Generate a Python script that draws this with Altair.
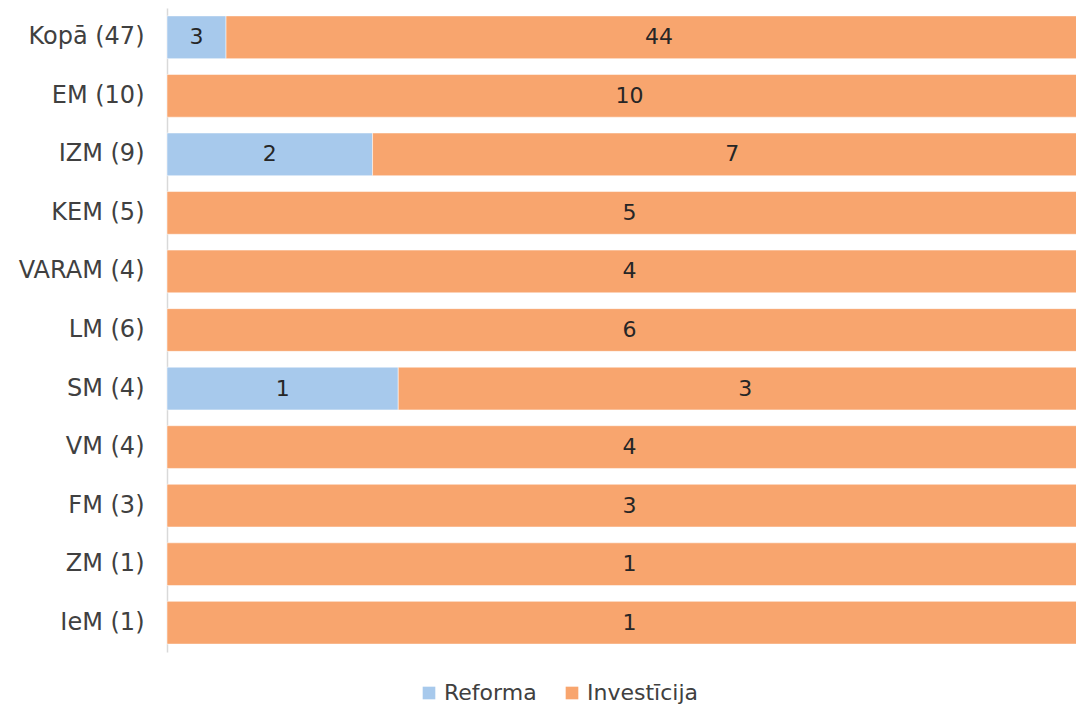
import altair as alt
import pandas as pd

categories = ["Kopā (47)", "EM (10)", "IZM (9)", "KEM (5)", "VARAM (4)", "LM (6)",
              "SM (4)", "VM (4)", "FM (3)", "ZM (1)", "IeM (1)"]
reforma = [3, 0, 2, 0, 0, 0, 1, 0, 0, 0, 0]
investicija = [44, 10, 7, 5, 4, 6, 3, 4, 3, 1, 1]
series = ["Reforma", "Investīcija"]
colors = ["#A7C9EC", "#F8A56E"]

rows = []
for cat, r, i in zip(categories, reforma, investicija):
    total = r + i
    start = 0.0
    for k, (name, v) in enumerate(zip(series, [r, i])):
        end = start + v / total
        if v > 0:
            rows.append({"cat": cat, "series": name, "value": v, "order": k,
                         "start": start, "end": end, "mid": (start + end) / 2})
        start = end
df = pd.DataFrame(rows)

FONT = "DejaVu Sans"
y = alt.Y("cat:N", sort=categories, title=None,
          scale=alt.Scale(paddingInner=0.27, paddingOuter=0.135),
          axis=alt.Axis(ticks=False, labelPadding=23, labelFontSize=24,
                        labelFont=FONT, labelColor="#404040",
                        domainColor="#d9d9d9", domainWidth=1.5, grid=False))
xs = alt.Scale(domain=[0, 1], nice=False, zero=True)

bars = alt.Chart(df).mark_bar(stroke="#ffffff", strokeOpacity=0.5, strokeWidth=1).encode(
    y=y,
    x=alt.X("start:Q", scale=xs, axis=None),
    x2="end:Q",
    color=alt.Color("series:N", sort=series,
                    scale=alt.Scale(domain=series, range=colors),
                    legend=alt.Legend(title=None, orient="none", direction="horizontal",
                                      legendX=251, legendY=674, symbolType="square",
                                      symbolSize=160, symbolStrokeWidth=0,
                                      labelFontSize=22, labelFont=FONT,
                                      labelColor="#404040", labelOffset=4,
                                      columnPadding=24)),
)

labels = alt.Chart(df).mark_text(fontSize=22, font=FONT, color="#262626").encode(
    y=alt.Y("cat:N", sort=categories),
    x=alt.X("mid:Q", scale=xs),
    text="value:Q",
)

chart = alt.layer(bars, labels).properties(
    width=925, height=644,
    autosize=alt.AutoSizeParams(type="none"),
    padding={"left": 159, "top": 0, "right": -16, "bottom": 55},
).configure_view(stroke=None)

chart.save("out.html", embed_options={"renderer": "svg", "actions": False})
